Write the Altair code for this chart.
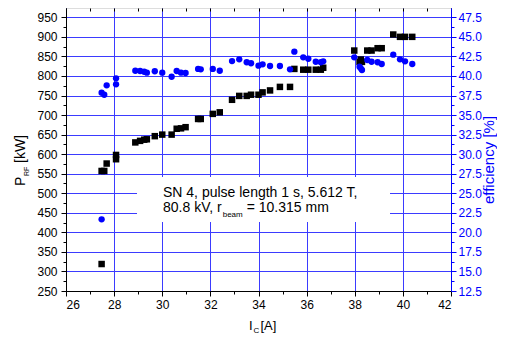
import altair as alt
import pandas as pd

# ---- data ----
ic_a = [27.48, 27.48, 27.59, 27.69, 28.08, 28.08, 28.88, 29.08, 29.25, 29.36,
        29.69, 30.00, 30.39, 30.60, 30.78, 30.97, 31.49, 31.60, 32.10, 32.39,
        32.90, 33.20, 33.51, 33.69, 34.00, 34.17, 34.48, 34.89, 35.31, 35.49,
        35.86, 36.07, 36.38, 36.59, 36.69, 37.98, 38.20, 38.25, 38.30, 38.52,
        38.70, 38.95, 39.12, 39.60, 39.88, 40.09, 40.39]
p_rf_kw = [319, 557, 557, 576, 598, 587, 630, 634, 637, 638,
           646, 650, 650, 665, 666, 669, 690, 690, 703, 707,
           739, 749, 749, 752, 752, 758, 763, 772, 772, 818,
           816, 816, 816, 816, 821, 865, 836, 842, 836, 865,
           865, 871, 871, 906, 900, 900, 900]
efficiency_pct = [21.67, 37.86, 37.60, 38.80, 39.70, 38.93, 40.67, 40.63, 40.54, 40.42,
                  40.60, 40.42, 39.90, 40.63, 40.42, 40.38, 40.90, 40.85, 40.90, 40.67,
                  41.90, 42.13, 41.75, 41.62, 41.31, 41.49, 41.27, 41.27, 40.85, 43.10,
                  42.38, 42.20, 41.82, 41.75, 41.87, 42.38, 41.18, 40.98, 40.76, 42.04,
                  41.82, 41.75, 41.53, 42.72, 42.13, 41.87, 41.53]

x_ticks = list(range(26, 43))
p_ticks = list(range(250, 951, 25))
eff_ticks = [12.5 + 1.25 * i for i in range(29)]

box_line1 = "SN 4, pulse length 1 s, 5.612 T,"
box_line2a = "80.8 kV, r"
box_line2_sub = "beam"
box_line2b = "= 10.315 mm"
ytitle_main, ytitle_sub, ytitle_unit = "P", "RF", "[kW]"
xtitle_main, xtitle_sub, xtitle_unit = "I", "C", "[A]"
y2title = "efficiency [%]"

df = pd.DataFrame({"ic": ic_a, "p": p_rf_kw, "eff": efficiency_pct})

W, H = 385, 283
FONT = "Liberation Sans"
GRID = "#3b3bff"
BLUE = "#0000ff"

xscale = alt.Scale(domain=[26, 42], nice=False, zero=False)
pscale = alt.Scale(domain=[250, 973.8], nice=False, zero=False)
escale = alt.Scale(domain=[12.5, 48.69], nice=False, zero=False)

x_major = "datum.value % 2 == 0"
p_major = "datum.value % 50 == 0"
e_major = "abs((datum.value - 12.5) / 2.5 - round((datum.value - 12.5) / 2.5)) < 0.01"

x_axis_bottom = alt.Axis(
    orient="bottom", values=x_ticks, title=None,
    labelExpr=f"{x_major} ? datum.label : ''",
    tickSize={"condition": {"test": x_major, "value": 5}, "value": 3},
    grid=True, gridColor=GRID, gridWidth=1,
    gridOpacity={"condition": {"test": x_major, "value": 1}, "value": 0},
    domainColor="black", tickColor="black", labelColor="black",
    labelFont=FONT, labelFontSize=12, labelPadding=3,
)
x_axis_top = alt.Axis(
    orient="top", values=x_ticks, title=None, labels=False,
    tickSize=3, offset=-3, domain=False, grid=False, tickColor="black",
)
p_axis = alt.Axis(
    orient="left", values=p_ticks, title=None,
    labelExpr=f"{p_major} ? datum.label : ''",
    tickSize={"condition": {"test": p_major, "value": 5}, "value": 3},
    grid=True, gridColor=GRID, gridWidth=1,
    gridOpacity={"condition": {"test": p_major, "value": 1}, "value": 0},
    domainColor="black", tickColor="black", labelColor="black",
    labelFont=FONT, labelFontSize=12, labelPadding=4,
)
e_axis = alt.Axis(
    orient="right", values=eff_ticks, title=None, format=".1f",
    labelExpr=f"{e_major} ? datum.label : ''",
    tickSize={"condition": {"test": e_major, "value": 5}, "value": 3},
    grid=False, domainColor=BLUE, tickColor=BLUE, labelColor=BLUE,
    labelFont=FONT, labelFontSize=12, labelPadding=2,
)

base = alt.Chart(df)
squares = base.mark_square(size=42, color="black", opacity=1).encode(
    x=alt.X("ic:Q", scale=xscale, axis=x_axis_bottom),
    y=alt.Y("p:Q", scale=pscale, axis=p_axis),
)
circles = base.mark_circle(size=40, color=BLUE, opacity=1).encode(
    x=alt.X("ic:Q", scale=xscale, axis=x_axis_top),
    y=alt.Y("eff:Q", scale=escale, axis=e_axis),
)

one = pd.DataFrame({"k": [0]})


def label(text, x, y, size, angle=0, color="black", align="left"):
    return alt.Chart(one).mark_text(
        text=text, align=align, baseline="alphabetic", font=FONT,
        fontSize=size, angle=angle, color=color,
    ).encode(x=alt.value(x), y=alt.value(y))


box = alt.Chart(one).mark_rect(color="white").encode(
    x=alt.value(71), x2=alt.value(324), y=alt.value(169), y2=alt.value(214)
)

texts = [
    label(box_line1, 97, 189, 14),
    label(box_line2a, 97, 204, 14),
    label(box_line2_sub, 156.7, 208.7, 8),
    label(box_line2b, 180.7, 204, 14),
    label(ytitle_main, -41, 178, 14, angle=270),
    label(ytitle_sub, -37, 168, 7, angle=270),
    label(ytitle_unit, -41, 155, 14, angle=270),
    label(xtitle_main, 183, 321.5, 13),
    label(xtitle_sub, 187.5, 325, 8),
    label(xtitle_unit, 194.5, 321.5, 13),
    label(y2title, 428, 152, 15, angle=270, color=BLUE, align="center"),
]

chart = alt.layer(squares, circles, box, *texts).resolve_scale(
    y="independent"
).resolve_axis(x="independent", y="independent").properties(
    width=W, height=H,
    autosize=alt.AutoSizeParams(type="none"),
    padding={"left": 58, "top": 0, "right": 46, "bottom": 43},
).configure_view(stroke="black", strokeWidth=1).configure(background="white")

chart.save("out.html", embed_options={"renderer": "svg", "actions": False})
